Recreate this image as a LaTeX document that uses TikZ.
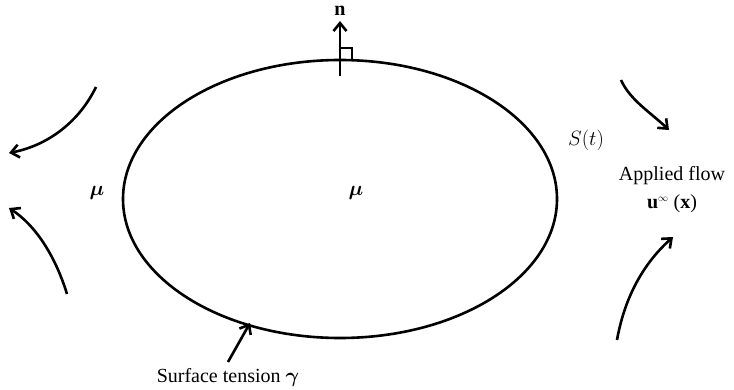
\documentclass[tikz,border=0pt]{standalone}
\usepackage{amsmath,amssymb,bm}
\usepackage{fontspec}
\setmainfont{Liberation Serif}
\usetikzlibrary{arrows.meta,shapes.geometric}
\begin{document}
\begin{tikzpicture}[x=1pt,y=-1pt,
  line/.style={line width=2.6pt},
  flow/.style={line width=2.6pt,-{Straight Barb[length=8pt,width=13pt,line width=2.6pt]}},
  lbl/.style={font=\fontsize{20}{23}\selectfont,inner sep=0pt,align=center}]
\useasboundingbox (0,0) rectangle (734,390);
% drop
\node[ellipse,draw,line width=2.6pt,minimum width=434pt,minimum height=278pt,inner sep=0pt] (drop) at (340,199) {};
% normal
\coordinate (nb) at (340,76);
\coordinate (nt) at (340,21);
\draw[flow] (nb) -- (nt);
\node[lbl] (n) at (340,11) {$\mathbf{n}$};
\draw[line width=1.8pt] (340,48) -- (352,48) -- (352,61);
% labels
\node[lbl] (S) at (586,140) {$S(t)$};
\node[lbl] (mu1) at (97,193) {$\bm{\mu}$};
\node[lbl] (mu2) at (356,193) {$\bm{\mu}$};
\node[lbl] (app) at (672,176) {Applied flow};
\node[lbl] (u) at (672,204) {$\mathbf{u}^{\scriptscriptstyle\infty}$ ($\mathbf{x}$)};
\node[lbl] (st) at (228,377) {Surface tension $\bm{\gamma}$};
% surface tension arrow
\coordinate (sta) at (228,362);
\coordinate (stb) at (250,323);
\draw[flow] (sta) -- (stb);
% flow arrows
\coordinate (a1s) at (96,87);
\coordinate (a1e) at (9,153);
\draw[flow] (a1s) .. controls (80,120) and (50,145) .. (a1e);
\coordinate (a2s) at (67,294);
\coordinate (a2e) at (9,208);
\draw[flow] (a2s) .. controls (55,255) and (35,225) .. (a2e);
\coordinate (a3s) at (621,80);
\coordinate (a3e) at (669,130);
\draw[flow] (a3s) .. controls (630,100) and (650,112) .. (a3e);
\coordinate (a4s) at (617,340);
\coordinate (a4e) at (673,237);
\draw[flow] (a4s) .. controls (625,295) and (645,262) .. (a4e);
\end{tikzpicture}
\end{document}
